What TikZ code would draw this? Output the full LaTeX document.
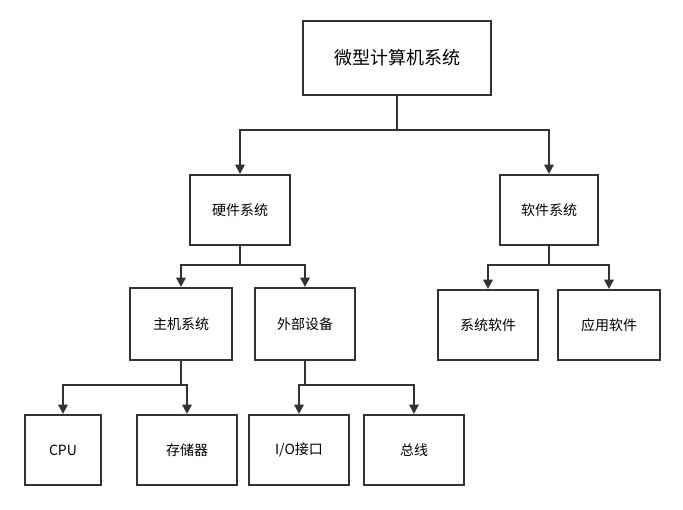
\documentclass[tikz,border=0pt]{standalone}
\usepackage{fontspec}
\setmainfont{Noto Sans CJK SC}
\usetikzlibrary{arrows.meta}
\definecolor{ln}{HTML}{333333}
\begin{document}
\begin{tikzpicture}[x=0.75pt,y=-0.75pt,
  bx/.style={draw=ln,line width=1.5pt,minimum width=75pt,minimum height=52.5pt,inner sep=0pt,font=\fontsize{10.5pt}{12pt}\selectfont,text=black},
  arr/.style={draw=ln,line width=1.5pt,-{Triangle[length=7pt,width=7pt]}},
  ln/.style={draw=ln,line width=1.5pt}]
\useasboundingbox (0,0) rectangle (683,510);
\node[bx,minimum width=141pt,minimum height=55pt,font=\fontsize{13.5pt}{16pt}\selectfont] (root) at (397,58) {微型计算机系统};
\node[bx] (hw) at (240,210) {硬件系统};
\node[bx,minimum width=73.5pt] (sw) at (549,210) {软件系统};
\node[bx,minimum width=76.5pt,minimum height=54pt] (host) at (181,324) {主机系统};
\node[bx,minimum height=54pt] (ext) at (305,324) {外部设备};
\node[bx] (sys) at (488,325) {系统软件};
\node[bx,minimum width=76.5pt] (app) at (609,325) {应用软件};
\node[bx,minimum width=57pt] (cpu) at (63,450) {CPU};
\node[bx] (mem) at (187,450) {存储器};
\node[bx] (io) at (299,450) {I/O接口};
\node[bx] (bus) at (414,450) {总线};
\coordinate (j1) at (397,130);
\coordinate (j2) at (240,265);
\coordinate (j3) at (549,265);
\coordinate (j4) at (181,385);
\coordinate (j5) at (305,385);
\draw[ln] (root.south) -- (j1);
\draw[arr] (j1) -| (hw.north);
\draw[arr] (j1) -| (sw.north);
\draw[ln] (hw.south) -- (j2);
\draw[arr] (j2) -| (host.north);
\draw[arr] (j2) -| (ext.north);
\draw[ln] (sw.south) -- (j3);
\draw[arr] (j3) -| (sys.north);
\draw[arr] (j3) -| (app.north);
\draw[ln] (host.south) -- (j4);
\draw[arr] (j4) -| (cpu.north);
\draw[arr] (j4) -| (mem.north);
\draw[ln] (ext.south) -- (j5);
\draw[arr] (j5) -| (io.north);
\draw[arr] (j5) -| (bus.north);
\end{tikzpicture}
\end{document}
